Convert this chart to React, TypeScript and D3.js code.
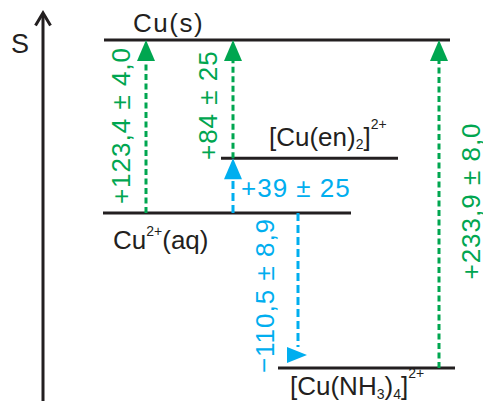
import React from 'react';
import * as d3 from 'd3';

// Entropy levels (J/(mol K)), relative to Cu2+(aq)
const levelIds = ['cus', 'en', 'aq', 'nh3'];
const levelS = [123.4, 39, 0, -110.5];

// Transitions between levels, with their labels
const stepFrom = ['aq', 'en', 'aq', 'aq', 'nh3'];
const stepTo = ['cus', 'cus', 'en', 'nh3', 'cus'];
const stepLabels = ['+123,4 ± 4,0', '+84 ± 25', '+39 ± 25', '-110,5 ± 8,9', '+233,9 ± 8,0'];
const stepKinds = ['green', 'green', 'blue', 'blue', 'green'];

const GREEN = '#00a650';
const BLUE = '#00aeef';
const INK = '#231f20';
const FONT = '"Liberation Sans", Arial, sans-serif';

// layout only (pixel placement of each level and arrow)
const levelX: Record<string, [number, number]> = {
    cus: [104, 450],
    en: [221, 398],
    aq: [103, 351],
    nh3: [278, 455],
};
const stepX = [146, 233, 233, 298, 439];

const y = d3.scaleLinear()
    .domain([d3.min(levelS) as number, d3.max(levelS) as number])
    .range([368, 40]);

const sOf = (id: string) => levelS[levelIds.indexOf(id)];

const txt = { fontFamily: FONT, fontSize: 26, letterSpacing: 1 } as const;
const spc = { fontFamily: FONT, fontSize: 26, letterSpacing: 0 } as const;

export default function App() {
    const head = 21;
    const half = 9;

    return (
        <svg width={483} height={407} style={{ position: 'absolute', left: 0, top: 0 }}>
            {/* eje S */}
            <line x1={43} x2={43} y1={401} y2={14} stroke={INK} strokeWidth={3} />
            <polyline points="35.5,25.5 43,13 50.5,25.5" fill="none" stroke={INK} strokeWidth={3} />
            <text x={20} y={53} textAnchor="middle" style={{ ...txt, fontSize: 27, letterSpacing: 0 }} fill={INK}>S</text>

            {/* niveles */}
            {levelIds.map(id => (
                <line key={id} x1={levelX[id][0]} x2={levelX[id][1]} y1={y(sOf(id))} y2={y(sOf(id))}
                    stroke={INK} strokeWidth={3} />
            ))}

            {/* flechas */}
            {stepFrom.map((from, i) => {
                const x = stepX[i];
                const y0 = y(sOf(from));
                const y1 = y(sOf(stepTo[i]));
                const color = stepKinds[i] === 'green' ? GREEN : BLUE;
                const up = y1 < y0;
                const dash = stepKinds[i] === 'green' ? '6 3.5' : '8 4';
                if (up) {
                    return (
                        <g key={i}>
                            <line x1={x} x2={x} y1={y0} y2={y1 + head} stroke={color} strokeWidth={3} strokeDasharray={dash} />
                            <polygon points={`${x},${y1} ${x - half},${y1 + head} ${x + half},${y1 + head}`} fill={color} />
                        </g>
                    );
                }
                // flecha hacia abajo: punta girada como en el original
                const tipY = y1 - 13;
                return (
                    <g key={i}>
                        <line x1={x} x2={x} y1={y0} y2={tipY - 8} stroke={color} strokeWidth={3} strokeDasharray={dash} />
                        <polygon points={`${x - 11},${tipY - 8} ${x + 9},${tipY} ${x - 11},${tipY + 8}`} fill={color} />
                    </g>
                );
            })}

            {/* etiquetas de las flechas */}
            {stepFrom.map((from, i) => {
                const y0 = y(sOf(from));
                const y1 = y(sOf(stepTo[i]));
                const color = stepKinds[i] === 'green' ? GREEN : BLUE;
                const label = stepLabels[i];
                if (i === 2) {
                    return (
                        <text key={i} x={stepX[i] + 8} y={y0 - 16} fill={color} style={txt}>{label}</text>
                    );
                }
                const offs = [[-25, -1], [-25, 6], [0, 0], [-24, 5], [32, -3]][i];
                const cx = stepX[i] + offs[0];
                const cy = (y0 + y1) / 2 + offs[1];
                const neg = label.startsWith('-');
                return (
                    <text key={i} transform={`translate(${cx},${cy}) rotate(-90)`} textAnchor="middle" dy="0.36em"
                        fill={color} style={txt}>
                        {neg ? <><tspan dy={-1.5}>−</tspan><tspan dy={1.5}>{label.slice(1)}</tspan></> : label}
                    </text>
                );
            })}

            {/* nombres de las especies */}
            <text x={133} y={y(sOf('cus')) - 8} fill={INK} style={{ ...spc, letterSpacing: 1.5 }}>Cu(s)</text>
            <text x={269} y={y(sOf('en')) - 12} fill={INK} style={spc}>
                [Cu(en)<tspan fontSize={14} dy={3}>2</tspan><tspan dy={-3}>]</tspan>
                <tspan fontSize={14} dy={-17}>2+</tspan>
            </text>
            <text x={113} y={y(sOf('aq')) + 36} fill={INK} style={spc}>
                Cu<tspan fontSize={14} dy={-13}>2+</tspan><tspan dy={13}>(aq)</tspan>
            </text>
            <text x={290} y={y(sOf('nh3')) + 27} fill={INK} style={spc}>
                [Cu(NH<tspan fontSize={14} dy={4}>3</tspan><tspan dy={-4}>)</tspan><tspan fontSize={14} dy={4}>4</tspan><tspan dy={-4}>]</tspan>
                <tspan fontSize={14} dy={-17}>2+</tspan>
            </text>
        </svg>
    );
}
